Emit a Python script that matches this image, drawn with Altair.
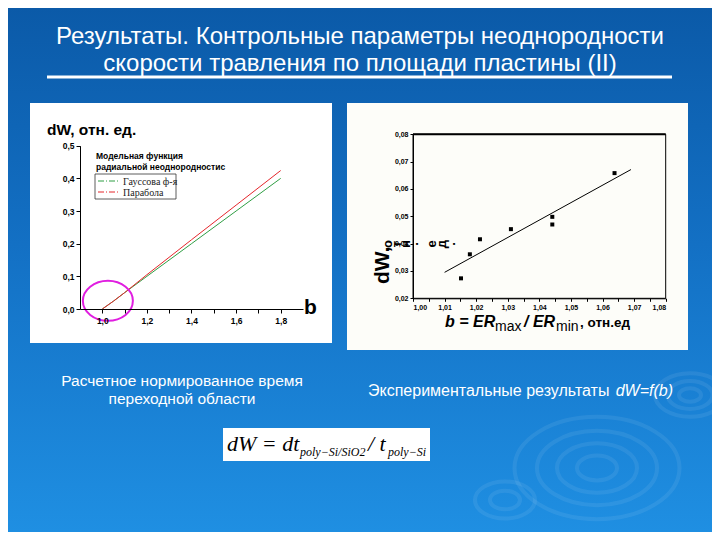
import altair as alt
import pandas as pd

W, H = 704, 524
M = 8  # page margin


def px(v):
    return v - M


# ---------------- text content ----------------
title_lines = ["Результаты. Контрольные параметры неоднородности",
               "скорости травления по площади пластины (II)"]
left_caption = ["Расчетное нормированное время", "переходной области"]
right_caption_plain = "Экспериментальные результаты"
right_caption_italic = "dW=f(b)"
left_ytitle = "dW, отн. ед."
left_xtitle = "b"
legend_title = ["Модельная функция", "радиальной неоднородностис"]
legend_names = ["Гауссова ф-я", "Парабола"]
legend_colors = ["#2f9e44", "#e5262b"]
right_ytitle_main = "dW,"
right_ytitle_rest = ["о", "т", "н", ".", "е", "д", "."]

# ---------------- left panel data (model) ----------------
b_model = [1.0, 1.05, 1.1, 1.2, 1.4, 1.6, 1.8]
dw_gauss = [0.0, 0.024, 0.05, 0.1, 0.2, 0.3, 0.4]
dw_parab = [0.0, 0.024, 0.05, 0.105, 0.212, 0.318, 0.424]
left_xticks = [1.0, 1.1, 1.2, 1.3, 1.4, 1.5, 1.6, 1.7, 1.8]
left_yticks = [0.0, 0.1, 0.2, 0.3, 0.4, 0.5]
circle_b = [1.025]
circle_dw = [0.025]

# ---------------- right panel data (experiment) ----------------
b_exp = [1.0152, 1.018, 1.0212, 1.031, 1.0441, 1.0441, 1.0638]
dw_exp = [0.0273, 0.0361, 0.0416, 0.0453, 0.0498, 0.0470, 0.0658]
b_fit = [1.010, 1.069]
dw_fit = [0.0295, 0.0671]
right_xticks = [1.0, 1.005, 1.01, 1.015, 1.02, 1.025, 1.03, 1.035, 1.04,
                1.045, 1.05, 1.055, 1.06, 1.065, 1.07, 1.075, 1.08]
right_yticks = [0.02, 0.03, 0.04, 0.05, 0.06, 0.07, 0.08]

one = pd.DataFrame({"k": [0]})
SANS = "Liberation Sans"
SERIF = "Liberation Serif"


def txt(s, x, y, size, **kw):
    kw.setdefault("baseline", "alphabetic")
    kw.setdefault("align", "left")
    kw.setdefault("font", SANS)
    return alt.Chart(one).mark_text(text=s, fontSize=size, **kw).encode(
        x=alt.value(px(x)), y=alt.value(px(y)))


def box(x1, y1, x2, y2, **kw):
    return alt.Chart(one).mark_rect(**kw).encode(
        x=alt.value(px(x1)), x2=alt.value(px(x2)),
        y=alt.value(px(y1)), y2=alt.value(px(y2)))


def hrule(x1, x2, y, **kw):
    return alt.Chart(one).mark_rule(**kw).encode(
        x=alt.value(px(x1)), x2=alt.value(px(x2)), y=alt.value(px(y)))


# ---------------- background ----------------
bg = box(M, M, M + W, M + H, fill=alt.LinearGradient(
    gradient="linear", x1=0, x2=0, y1=0, y2=1,
    stops=[alt.GradientStop(color="#0b5aa8", offset=0),
           alt.GradientStop(color="#1370c4", offset=0.45),
           alt.GradientStop(color="#1f8fe2", offset=1)]))

ellipse_path = "M -1 0 A 1 0.62 0 1 1 1 0 A 1 0.62 0 1 1 -1 0 Z"
rip = pd.DataFrame({
    "cx": [px(v) for v in [597, 597, 597, 597, 690, 690, 690, 505, 505]],
    "cy": [px(v) for v in [468, 468, 468, 468, 395, 395, 395, 500, 500]],
    "s": [165 ** 2, 120 ** 2, 80 ** 2, 40 ** 2, 70 ** 2, 45 ** 2, 22 ** 2, 60 ** 2, 30 ** 2],
})
ripples = alt.Chart(rip).mark_point(shape=ellipse_path, filled=False, stroke="white",
                                    strokeWidth=4, opacity=0.07).encode(
    x=alt.X("cx:Q", scale=None, axis=None),
    y=alt.Y("cy:Q", scale=None, axis=None),
    size=alt.Size("s:Q", scale=None, legend=None))

# ---------------- title ----------------
t1 = txt(title_lines[0], 360, 44, 24, color="white", align="center")
t2 = txt(title_lines[1], 360, 71, 24, color="white", align="center")
underline = hrule(47, 672, 77, color="white", strokeWidth=3)

# ---------------- left panel ----------------
left_box = box(30, 103, 332, 343, fill="white")
axc = dict(grid=False, title=None, domainColor="black", tickColor="black",
           labelColor="black", labelFont=SANS, labelFontWeight="bold", zindex=2)

lx_scale = alt.Scale(domain=[0.9, 1.9], range=[px(80.0), px(303.0)], nice=False, zero=False)
ly_scale = alt.Scale(domain=[0.0, 0.5], range=[px(309.0), px(145.7)], nice=False, zero=False)
lx_axis = alt.Axis(orient="bottom", offset=px(309.0) - H, values=left_xticks,
                   labelExpr="abs(datum.value*5 - round(datum.value*5)) < 0.01 ? replace(format(datum.value, '.1f'), '.', ',') : ''",
                   tickSize=4, labelFontSize=8.5, labelPadding=3, **axc)
ly_axis = alt.Axis(orient="left", offset=-px(80.0), values=left_yticks,
                   labelExpr="replace(format(datum.value, '.1f'), '.', ',')",
                   tickSize=4, labelFontSize=8.5, labelPadding=2, **axc)

g_line = alt.Chart(pd.DataFrame({"b": b_model, "dw": dw_gauss})).mark_line(
    color=legend_colors[0], strokeWidth=1).encode(
    x=alt.X("b:Q", scale=lx_scale, axis=lx_axis),
    y=alt.Y("dw:Q", scale=ly_scale, axis=ly_axis))
p_line = alt.Chart(pd.DataFrame({"b": b_model, "dw": dw_parab})).mark_line(
    color=legend_colors[1], strokeWidth=1).encode(
    x=alt.X("b:Q", scale=lx_scale, axis=None),
    y=alt.Y("dw:Q", scale=ly_scale, axis=None))
ellipse = alt.Chart(pd.DataFrame({"b": circle_b, "dw": circle_dw})).mark_point(
    shape="M -1 0 A 1 0.8 0 1 1 1 0 A 1 0.8 0 1 1 -1 0 Z", size=2500, filled=False,
    stroke="#e01ee0", strokeWidth=2, opacity=1).encode(
    x=alt.X("b:Q", scale=lx_scale, axis=None),
    y=alt.Y("dw:Q", scale=ly_scale, axis=None))

left_texts = [
    txt(left_ytitle, 47, 135, 15.5, fontWeight="bold", color="black"),
    txt(left_xtitle, 304, 314, 21, fontWeight="bold", color="black"),
    txt(legend_title[0], 96, 159, 8.5, fontWeight="bold", color="black"),
    txt(legend_title[1], 96, 170, 8.5, fontWeight="bold", color="black"),
    box(95, 174, 176, 199, fill="white", stroke="#333333", strokeWidth=0.8),
    hrule(98, 120, 181, color=legend_colors[0], strokeWidth=1, strokeDash=[6, 2, 1, 2]),
    hrule(98, 120, 192, color=legend_colors[1], strokeWidth=1, strokeDash=[6, 2, 1, 2]),
    txt(legend_names[0], 123, 185, 10, font=SERIF, color="#222222"),
    txt(legend_names[1], 123, 196, 10, font=SERIF, color="#222222"),
]

# ---------------- right panel ----------------
right_box = box(347, 103, 688, 350, fill="#fdfdf9")
rx_scale = alt.Scale(domain=[1.0, 1.08], range=[px(413.0), px(665.7)], nice=False, zero=False)
ry_scale = alt.Scale(domain=[0.02, 0.08], range=[px(298.3), px(134.3)], nice=False, zero=False)
rx_axis = alt.Axis(orient="bottom", offset=px(298.3) - H, values=right_xticks,
                   labelExpr="abs(datum.value*100 - round(datum.value*100)) < 0.01 ? replace(format(datum.value, '.2f'), '.', ',') : ''",
                   tickSize=3, labelFontSize=7, labelPadding=2, **axc)
ry_axis = alt.Axis(orient="left", offset=-px(413.0), values=right_yticks,
                   labelExpr="replace(format(datum.value, '.2f'), '.', ',')",
                   tickSize=3, labelFontSize=7, labelPadding=2, **axc)

pts = alt.Chart(pd.DataFrame({"b": b_exp, "dw": dw_exp})).mark_square(
    size=16, color="black", opacity=1).encode(
    x=alt.X("b:Q", scale=rx_scale, axis=rx_axis),
    y=alt.Y("dw:Q", scale=ry_scale, axis=ry_axis))
fit = alt.Chart(pd.DataFrame({"b": b_fit, "dw": dw_fit})).mark_line(
    color="black", strokeWidth=1).encode(
    x=alt.X("b:Q", scale=rx_scale, axis=None),
    y=alt.Y("dw:Q", scale=ry_scale, axis=None))
frame_df = pd.DataFrame({"b1": [1.0], "b2": [1.08], "d1": [0.02], "d2": [0.08]})
frame = alt.Chart(frame_df).mark_rect(fillOpacity=0, stroke="black", strokeWidth=1).encode(
    x=alt.X("b1:Q", scale=rx_scale, axis=None), x2="b2:Q",
    y=alt.Y("d1:Q", scale=ry_scale, axis=None), y2="d2:Q")
top_edge = alt.Chart(frame_df).mark_rule(color="black", strokeWidth=2).encode(
    x=alt.X("b1:Q", scale=rx_scale, axis=None), x2="b2:Q",
    y=alt.Y("d2:Q", scale=ry_scale, axis=None))

rest = pd.DataFrame({"c": right_ytitle_rest,
                     "x": [px(v) for v in [388, 397, 406, 414, 432, 442, 451]]})
right_texts = [
    txt(right_ytitle_main, 389, 284, 21, fontWeight="bold", color="black", angle=270),
    alt.Chart(rest).mark_text(font=SANS, fontSize=13, fontWeight="bold", color="black",
                              angle=270, align="center", baseline="middle").encode(
        x=alt.X("x:Q", scale=None, axis=None), y=alt.value(px(244)), text="c:N"),
    txt("b = ER", 445, 327, 16, fontStyle="italic", fontWeight="bold", color="black"),
    txt("max", 495, 331, 14, color="black"),
    txt("/ ER", 524, 327, 16, fontStyle="italic", fontWeight="bold", color="black"),
    txt("min", 556, 331, 14, color="black"),
    txt(", отн.ед", 580, 327, 13.5, fontWeight="bold", color="black"),
]

# ---------------- captions & formula ----------------
captions = [
    txt(left_caption[0], 182, 386, 15.5, color="white", align="center"),
    txt(left_caption[1], 182, 404, 15.5, color="white", align="center"),
    txt(right_caption_plain, 368, 396, 16, color="white"),
    txt(right_caption_italic, 673, 396, 16, color="white", align="right", fontStyle="italic"),
]
formula = [
    box(223, 428, 430, 461, fill="white"),
    txt("dW = dt", 227, 451, 22, font=SERIF, fontStyle="italic", color="black"),
    txt("poly\u2212Si/SiO2", 300, 456, 12, font=SERIF, fontStyle="italic", color="black"),
    txt("/ t", 368, 451, 22, font=SERIF, fontStyle="italic", color="black"),
    txt("poly\u2212Si", 388, 456, 12, font=SERIF, fontStyle="italic", color="black"),
]

chart = alt.layer(
    bg, ripples, t1, t2, underline, left_box, right_box,
    g_line, p_line, ellipse, frame, top_edge, fit, pts,
    *left_texts, *right_texts, *captions, *formula
).resolve_scale(x="independent", y="independent").properties(
    width=W, height=H, autosize=alt.AutoSizeParams(type="none"), padding=0,
    background="#1370c4"
).configure_view(stroke=None)

chart.save("out.html", embed_options={"renderer": "svg", "actions": False})
